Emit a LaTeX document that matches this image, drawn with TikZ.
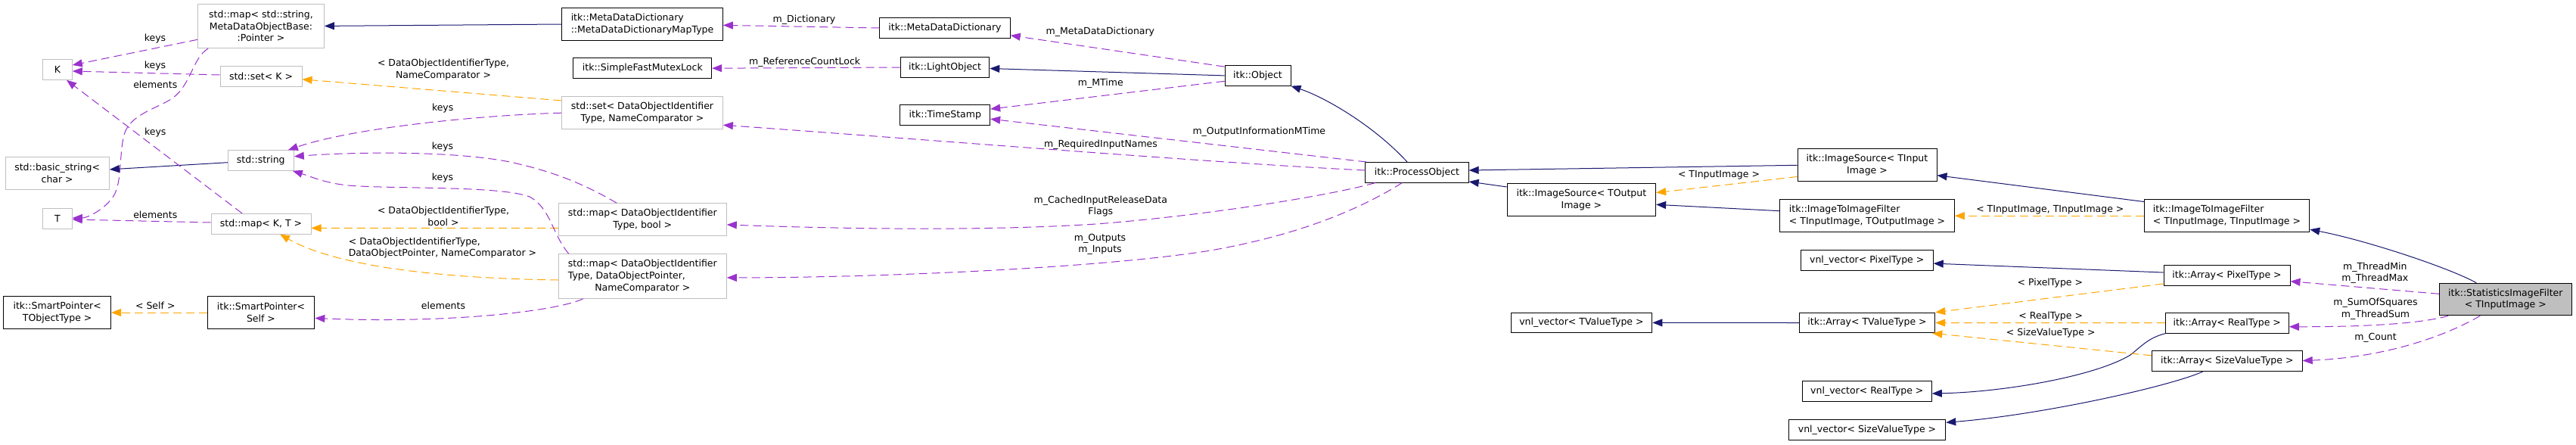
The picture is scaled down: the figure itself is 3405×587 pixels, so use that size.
\documentclass[tikz,border=0pt]{standalone}
\usepackage{fontspec}
\setmainfont{DejaVu Sans}
\usetikzlibrary{arrows.meta,calc}
\definecolor{dblue}{HTML}{191970}
\definecolor{dorange}{HTML}{FFA500}
\definecolor{dpurple}{HTML}{9A32CD}
\definecolor{gseven}{HTML}{BFBFBF}
\newsavebox\firstlinebox
\begin{document}
\begin{tikzpicture}[x=1pt,y=-1pt,
  every node/.style={font=\fontsize{12.5}{15.7}\selectfont, inner sep=0pt},
  box/.style={draw=black, line width=1pt, fill=white, align=center},
  gbox/.style={box, draw=gseven},
  sz/.style 2 args={minimum width=#1pt, minimum height=#2pt},
  lbl/.style={align=center},
  tipk/.style={-{Triangle[length=13pt,width=10pt]}},
  inh/.style={dblue, line width=1pt, tipk},
  tpl/.style={dorange, line width=1pt, dash pattern=on 11pt off 6pt, tipk},
  use/.style={dpurple, line width=1pt, dash pattern=on 11pt off 6pt, tipk},
]
\fill[white] (0,0) rectangle (3405,587);
\useasboundingbox (0,0) rectangle (3405,587);

% ---------- nodes ----------
\node[gbox, sz={166.8}{58.5}] (mapSS) at (345,34.4) {std::map< std::string,\\MetaDataObjectBase:\\:Pointer >};
\node[gbox, sz={38.6}{26.6}] (K) at (76,92) {K};
\node[gbox, sz={108}{26.6}] (setK) at (345,101) {std::set< K >};
\node[gbox, sz={87}{26.6}] (str) at (344.8,212) {std::string};
\node[gbox, sz={137.3}{42.5}] (bstr) at (75.7,229) {std::basic\_string<\\char >};
\node[gbox, sz={38.6}{26.6}] (T) at (76,289) {T};
\node[gbox, sz={132}{26.6}] (mapKT) at (345,295.7) {std::map< K, T >};
\node[box, sz={141.7}{43}] (spT) at (75.7,413) {itk::SmartPointer<\\TObjectType >};
\node[box, sz={141.7}{43}] (spS) at (345,413) {itk::SmartPointer<\\Self >};

\node[box, sz={212.7}{42.5}, align=left] (mapType) at (849,32) {itk::MetaDataDictionary\\::MetaDataDictionaryMapType};
\node[box, sz={182.7}{26.6}] (mutex) at (849.3,90.2) {itk::SimpleFastMutexLock};
\node[gbox, sz={212.7}{43}] (setDO) at (849,149.2) {std::set< DataObjectIdentifier\\Type, NameComparator >};
\node[gbox, sz={222}{43}] (mapDOb) at (849.3,290.3) {std::map< DataObjectIdentifier\\Type, bool >};
\node[gbox, sz={222}{58.4}] (mapDOp) at (849.3,365) {\global\setbox\firstlinebox=\hbox{std::map< DataObjectIdentifier}\copy\firstlinebox\\\hbox to\wd\firstlinebox{Type, DataObjectPointer,\hfil}\\NameComparator >};

\node[box, sz={172.4}{26.6}] (mdd) at (1249,37) {itk::MetaDataDictionary};
\node[box, sz={117.6}{26.6}] (light) at (1249,89) {itk::LightObject};
\node[box, sz={118.7}{26.6}] (ts) at (1249.3,151.8) {itk::TimeStamp};
\node[box, sz={87}{26.6}] (obj) at (1662.5,99.9) {itk::Object};
\node[box, sz={136.3}{26.6}] (po) at (1873,227.8) {itk::ProcessObject};

\node[box, sz={196.4}{43}] (isO) at (2090.4,263.7) {itk::ImageSource< TOutput\\Image >};
\node[box, sz={186.8}{26.6}] (vnlT) at (2090.4,426.4) {vnl\_vector< TValueType >};

\node[box, sz={184}{43}] (isI) at (2468,218.3) {itk::ImageSource< TInput\\Image >};
\node[box, sz={230.8}{43}, align=left] (itoTO) at (2468,285.2) {itk::ImageToImageFilter\\< TInputImage, TOutputImage >};
\node[box, sz={175}{26.6}] (vnlP) at (2467.7,343.9) {vnl\_vector< PixelType >};
\node[box, sz={179.4}{26.6}] (arrT) at (2468,426.5) {itk::Array< TValueType >};
\node[box, sz={171}{26.6}] (vnlR) at (2467.8,517.2) {vnl\_vector< RealType >};
\node[box, sz={207.4}{26.6}] (vnlS) at (2468,568) {vnl\_vector< SizeValueType >};

\node[box, sz={218.4}{43}, align=left] (itoTI) at (2943.5,285.2) {itk::ImageToImageFilter\\< TInputImage, TInputImage >};
\node[box, sz={167}{26.6}] (arrP) at (2943.5,364) {itk::Array< PixelType >};
\node[box, sz={163}{26.6}] (arrR) at (2943.8,426.7) {itk::Array< RealType >};
\node[box, sz={198.7}{26.6}] (arrS) at (2943.8,477.1) {itk::Array< SizeValueType >};
\node[box, fill=gseven, sz={174.8}{42.5}] (stats) at (3311.8,395.5) {itk::StatisticsImageFilter\\< TInputImage >};

% ---------- inheritance (solid blue) ----------
\draw[inh] (mapType.west) -- (mapSS.east);
\draw[inh] ($(str.west)+(0,2.7)$) -- ($(bstr.east)+(0,-5.1)$);
\draw[inh] (obj.west) -- ($(light.east)+(0,1.5)$);
\draw[inh] ($(po.north)+(-13,0)$) .. controls (1815,165) and (1750,128) .. (obj.south east);
\draw[inh] (isI.west) -- ($(po.east)+(0,-2.8)$);
\draw[inh] ($(isO.west)+(0,-16.7)$) -- ($(po.east)+(0,12.2)$);
\draw[inh] ($(itoTO.west)+(0,-6.5)$) -- ($(isO.east)+(0,6.6)$);
\draw[inh] ($(itoTI.west)+(0,-18.7)$) -- ($(isI.east)+(0,13.4)$);
\draw[inh] ($(stats.north)+(-38.5,0)$) .. controls (3240,355) and (3130,318) .. ($(itoTI.south east)+(0,-4)$);
\draw[inh] ($(arrP.west)+(0,-4)$) -- ($(vnlP.east)+(0,4.2)$);
\draw[inh] (arrT.west) -- (vnlT.east);
\draw[inh] ($(arrR.south west)+(1,0)$) .. controls (2840,446) and (2830,458) .. (2816,469) .. controls (2770,497) and (2650,518) .. ($(vnlR.east)+(0,2.8)$);
\draw[inh] ($(arrS.south)+(-31.9,0)$) .. controls (2870,510) and (2700,548) .. ($(vnlS.east)+(0,-9.7)$);

% ---------- template instances (dashed orange) ----------
\draw[tpl] ($(setDO.west)+(0,-16.3)$) -- ($(setK.east)+(0,3.8)$);
\draw[tpl] ($(mapDOb.west)+(0,11.1)$) -- ($(mapKT.east)+(0,5.7)$);
\draw[tpl] ($(mapDOp.west)+(0,5)$) .. controls (600,368) and (450,355) .. ($(mapKT.south)+(25,0)$);
\draw[tpl] (spS.west) -- (spT.east);
\draw[tpl] ($(isI.west)+(0,15.2)$) -- ($(isO.east)+(0,-9.1)$);
\draw[tpl] (itoTI.west) -- (itoTO.east);
\draw[tpl] ($(arrP.west)+(0,11)$) -- (arrT.north east);
\draw[tpl] (arrR.west) -- (arrT.east);
\draw[tpl] ($(arrS.west)+(0,-7.3)$) -- ($(arrT.south east)+(-4,0)$);

% ---------- usage (dashed purple) ----------
\draw[use] ($(mapSS.west)+(0,17.9)$) -- ($(K.east)+(0,-6)$);
\draw[use] ($(setK.west)+(0,-2)$) -- ($(K.east)+(0,2)$);
\draw[use] ($(mapKT.north)+(-25,0)$) -- ($(K.south)+(12,0)$);
\draw[use] ($(mapSS.south west)+(14,0)$) .. controls (255,76) and (252,112) .. (229,129) .. controls (210,143) and (172,150) .. (164,178) .. controls (157,205) and (162,245) .. (148,262) .. controls (136,278) and (115,288) .. ($(T.east)+(0,-1)$);
\draw[use] ($(mapKT.west)+(0,-1.7)$) -- ($(T.east)+(0,1)$);
\draw[use] (setDO.west) .. controls (640,152) and (470,168) .. ($(str.north east)+(-8,0)$);
\draw[use] ($(mapDOb.north)+(-34,0)$) .. controls (780,248) and (740,228) .. (671,213.4) .. controls (600,200) and (480,200) .. ($(str.east)+(0,-5.3)$);
\draw[use] ($(mapDOp.north west)+(14,0)$) .. controls (730,310) and (728,275) .. (700,260) .. controls (660,245) and (520,250) .. (460,245) .. controls (430,242) and (410,233) .. ($(str.south east)+(-2,0)$);
\draw[use] ($(mapDOp.south)+(-78.5,0)$) .. controls (740,410) and (600,428) .. ($(spS.east)+(0,7.4)$);
\draw[use] (mdd.west) -- ($(mapType.east)+(0,1.3)$);
\draw[use] (light.west) -- (mutex.east);
\draw[use] ($(obj.north west)+(0,2)$) -- ($(mdd.east)+(0,9.8)$);
\draw[use] ($(obj.west)+(0,7.4)$) -- ($(ts.east)+(0,-7.7)$);
\draw[use] ($(po.north west)+(2,0)$) -- ($(ts.east)+(0,5.4)$);
\draw[use] ($(po.west)+(0,-2.8)$) .. controls (1600,215) and (1300,190) .. ($(setDO.east)+(0,16)$);
\draw[use] ($(po.south west)+(13.4,0)$) .. controls (1760,258) and (1600,284) .. (1453,295.7) .. controls (1300,306) and (1100,302) .. ($(mapDOb.east)+(0,6.6)$);
\draw[use] ($(po.south)+(-19.7,0)$) .. controls (1800,275) and (1720,310) .. (1600,331) .. controls (1450,355) and (1150,367) .. ($(mapDOp.east)+(0,1.9)$);
\draw[use] ($(stats.west)+(0,-7.2)$) -- ($(arrP.east)+(0,7.7)$);
\draw[use] ($(stats.south west)+(12.3,0)$) .. controls (3200,428) and (3120,432) .. ($(arrR.east)+(0,5)$);
\draw[use] ($(stats.south)+(-33.5,0)$) .. controls (3240,440) and (3160,472) .. ($(arrS.east)+(0,-0.5)$);

% ---------- labels ----------
\node[lbl] (l1) at (205,50.7) {keys};
\node[lbl] (l2) at (205,87.3) {keys};
\node[lbl] (l3) at (205.3,111.6) {elements};
\node[lbl] (l4) at (205.3,175.2) {keys};
\node[lbl] (l5) at (205.3,283.4) {elements};
\node[lbl] (l6) at (205.3,404.3) {< Self >};
\node[lbl] (l7) at (586,92) {< DataObjectIdentifierType,\\NameComparator >};
\node[lbl] (l8) at (585.2,143.4) {keys};
\node[lbl] (l9) at (585,194.5) {keys};
\node[lbl] (l10) at (585,235.5) {keys};
\node[lbl] (l11) at (586,286) {< DataObjectIdentifierType,\\bool >};
\node[align=left] (l12) at (585,327.5) {< DataObjectIdentifierType,\\DataObjectPointer, NameComparator >};
\node[lbl] (l13) at (586,403.6) {elements};
\node[lbl] (l14) at (1063,26.2) {m\_Dictionary};
\node[lbl] (l15) at (1063.6,82.4) {m\_ReferenceCountLock};
\node[lbl] (l16) at (1454.4,42.7) {m\_MetaDataDictionary};
\node[lbl] (l17) at (1454.8,110.4) {m\_MTime};
\node[lbl] (l18) at (1664.3,174.3) {m\_OutputInformationMTime};
\node[lbl] (l19) at (1455,191.7) {m\_RequiredInputNames};
\node[lbl] (l20) at (1454.8,272.5) {m\_CachedInputReleaseData\\Flags};
\node[lbl] (l21) at (1454,322.7) {m\_Outputs\\m\_Inputs};
\node[lbl] (l22) at (2272,231.4) {< TInputImage >};
\node[lbl] (l23) at (2709.8,277) {< TInputImage, TInputImage >};
\node[lbl] (l24) at (2709.8,374.4) {< PixelType >};
\node[lbl] (l25) at (2710.7,418.3) {< RealType >};
\node[lbl] (l26) at (2710.7,440) {< SizeValueType >};
\node[lbl] (l27) at (3139.3,360.7) {m\_ThreadMin\\m\_ThreadMax};
\node[lbl] (l28) at (3140,408.3) {m\_SumOfSquares\\m\_ThreadSum};
\node[lbl] (l29) at (3140,446.7) {m\_Count};
\end{tikzpicture}
\end{document}
